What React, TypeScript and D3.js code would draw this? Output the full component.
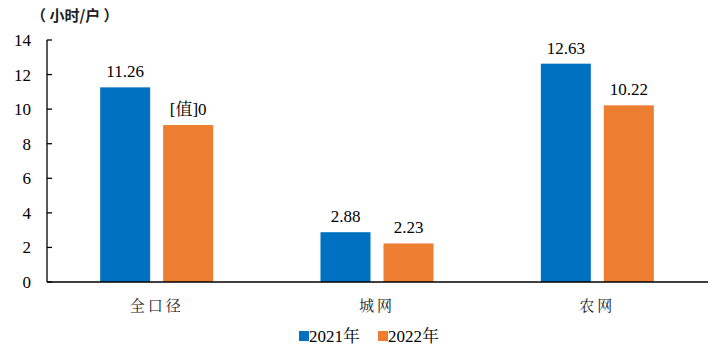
import React from "react";
import * as d3 from "d3";

const categories = ["全口径", "城网", "农网"];
const seriesNames = ["2021", "2022"];
const values2021 = [11.26, 2.88, 12.63];
const values2022 = [9.08, 2.23, 10.22];
const labels2021 = ["11.26", "2.88", "12.63"];
const labels2022 = ["[值]0", "2.23", "10.22"];
const yTicks = [0, 2, 4, 6, 8, 10, 12, 14];
const colors = ["#0070C0", "#ED7D31"];

const W = 720, H = 348;
const left = 47, right = 708, top = 40, bottom = 282;
const serif = "Liberation Serif";
const cjkSerif = "Noto Serif CJK SC";
const cjk = "Noto Sans CJK SC";

function Mixed({ text }: { text: string }) {
  const parts = text.split(/([\u4e00-\u9fff]+)/).filter((p) => p.length);
  return (
    <>
      {parts.map((p, k) => (
        <tspan key={k} fontFamily={/[\u4e00-\u9fff]/.test(p) ? cjkSerif : serif}>{p}</tspan>
      ))}
    </>
  );
}

export default function App() {
  const x = d3.scaleBand<string>().domain(categories).range([left, right]);
  const y = d3.scaleLinear().domain([0, 14]).range([bottom, top]);
  const barW = 50;
  const gap = 13;
  const series = [values2021, values2022];
  const labels = [labels2021, labels2022];
  return (
    <svg width={W} height={H} style={{ position: "absolute", left: 0, top: 0, fontFamily: serif }}>
      <rect width={W} height={H} fill="#fff" />
      <text x={31} y={21} fontFamily={cjk} fontSize={15} fontWeight="bold" fill="#222">（ 小时/户 ）</text>
      <line x1={left} x2={left} y1={top} y2={bottom} stroke="#000" strokeWidth={1.3} />
      {yTicks.map((t) => (
        <g key={t}>
          <line x1={left} x2={left + 5} y1={y(t)} y2={y(t)} stroke="#000" strokeWidth={1.3} />
          <text x={31} y={y(t)} dy="0.35em" textAnchor="end" fontFamily={serif} fontSize={17} fill="#000">{t}</text>
        </g>
      ))}
      {categories.map((c, i) => {
        const cx = x(c)! + x.bandwidth() / 2 - 0.5;
        return (
          <g key={c}>
            {series.map((s, j) => {
              const bx = j === 0 ? cx - gap / 2 - barW : cx + gap / 2;
              return (
                <g key={j}>
                  <rect x={bx} y={y(s[i])} width={barW} height={bottom - y(s[i])} fill={colors[j]} />
                  <text x={bx + barW / 2} y={y(s[i]) - 10} textAnchor="middle" fontFamily={serif} fontSize={17} fill="#000"><Mixed text={labels[j][i]} /></text>
                </g>
              );
            })}
            <text x={cx} y={311} textAnchor="middle" fontFamily={cjkSerif} fontSize={15} letterSpacing={3} fill="#222">{c}</text>
          </g>
        );
      })}
      <line x1={left} x2={right} y1={bottom} y2={bottom} stroke="#000" strokeWidth={1.5} />
      {seriesNames.map((n, j) => {
        const lx = 299 + j * 79;
        return (
          <g key={n}>
            <rect x={lx} y={331} width={10} height={10} fill={colors[j]} />
            <text x={lx + 10} y={342} fontSize={17} fill="#000"><Mixed text={n + "年"} /></text>
          </g>
        );
      })}
    </svg>
  );
}
